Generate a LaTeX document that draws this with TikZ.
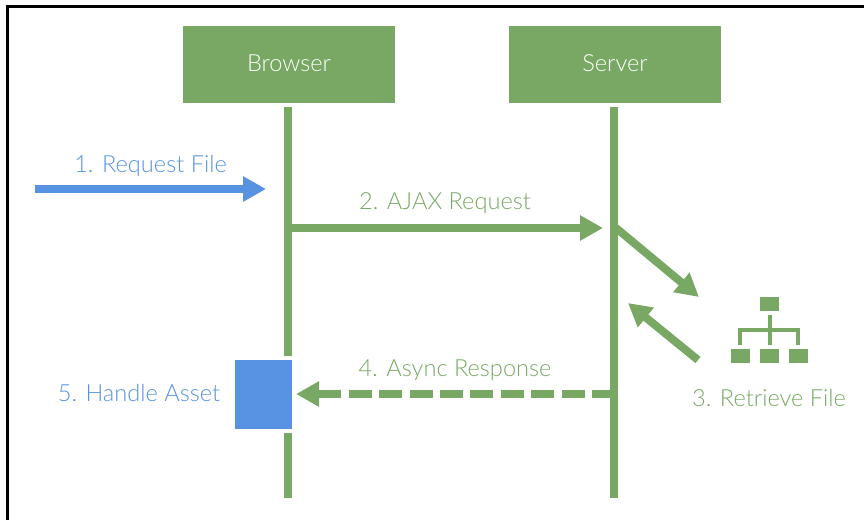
\documentclass[tikz,border=0pt]{standalone}
\usepackage{fontspec}
\setmainfont{Lato}[UprightFont=* Light]
\usepackage{tikz}
\usetikzlibrary{arrows.meta}
\definecolor{flowgreen}{HTML}{78A864}
\definecolor{flowblue}{HTML}{5892E3}
\tikzset{
  lifebox/.style={fill=flowgreen,text=white,minimum width=212pt,minimum height=77pt,inner sep=0pt,text depth=2pt,font=\fontsize{23.6}{26}\selectfont},
  lifeline/.style={draw=flowgreen,line width=8pt},
  msg/.style={line width=8pt,-{Triangle[length=23pt,width=24pt]}},
  lbl/.style={inner sep=0pt,font=\fontsize{23.6}{26}\selectfont},
  iconbox/.style={fill=flowgreen,minimum width=19pt,minimum height=14pt,inner sep=0pt},
  iconline/.style={draw=flowgreen,line width=4pt}
}
\begin{document}
\begin{tikzpicture}[x=1pt,y=-1pt]
        \useasboundingbox (0,0) rectangle (864,520);
        % frame
        \coordinate (fa) at (7,520);
        \coordinate (fb) at (7,6);
        \coordinate (fc) at (864,6);
        \draw[line width=3pt] (fa) -- (fb) -- (fc);
        % heads
        \node[lifebox] (browser) at (289,64.5) {Browser};
        \node[lifebox] (server) at (615,64.5) {Server};
        % lifelines
        \coordinate (ba) at (288,107);
        \coordinate (bb) at (288,356);
        \coordinate (bc) at (288,433);
        \coordinate (bd) at (288,498);
        \coordinate (sa) at (614,107);
        \coordinate (sb) at (614,498);
        \draw[lifeline] (ba) -- (bb);
        \draw[lifeline] (bc) -- (bd);
        \draw[lifeline] (sa) -- (sb);
        % blue box
        \node[fill=flowblue,minimum width=57pt,minimum height=69pt,inner sep=0pt] (asset) at (263.5,394.5) {};
        % messages
        \coordinate (ra) at (35,189);
        \coordinate (rb) at (266,189);
        \draw[msg,flowblue] (ra) -- (rb);
        \node[lbl,text=flowblue] (reqfile) at (150.5,165.5) {1. Request File};
        \coordinate (aa) at (290,228);
        \coordinate (ab) at (603,228);
        \draw[msg,flowgreen] (aa) -- (ab);
        \node[lbl,text=flowgreen] (ajax) at (445,203.5) {2. AJAX Request};
        \coordinate (ga) at (616,228);
        \coordinate (gb) at (699,297);
        \draw[msg,flowgreen] (ga) -- (gb);
        \coordinate (ha) at (698,360);
        \coordinate (hb) at (628,303);
        \draw[msg,flowgreen] (ha) -- (hb);
        \coordinate (da) at (610,394);
        \coordinate (db) at (296,394);
        \draw[msg,flowgreen,dash pattern=on 23pt off 7.4pt,dash phase=5pt] (da) -- (db);
        \node[lbl,text=flowgreen] (async) at (455,370.5) {4. Async Response};
        \node[lbl,text=flowblue] (handle) at (139,393.5) {5. Handle Asset};
        \node[lbl,text=flowgreen] (retrieve) at (769,398) {3. Retrieve File};
        % tree icon
        \node[iconbox] (top) at (769.5,304) {};
        \foreach \x/\n in {740.5/left,769.5/mid,798.5/right} {
          \node[iconbox] (\n) at (\x,356) {};
        }
        \coordinate (sa1) at (769.5,315);
        \coordinate (sa2) at (769.5,345);
        \draw[iconline] (sa1) -- (sa2);
        \coordinate (ta) at (740,345);
        \coordinate (tb) at (740,330);
        \coordinate (tc) at (798,330);
        \coordinate (td) at (798,345);
        \draw[iconline] (ta) -- (tb) -- (tc) -- (td);
\end{tikzpicture}
\end{document}
